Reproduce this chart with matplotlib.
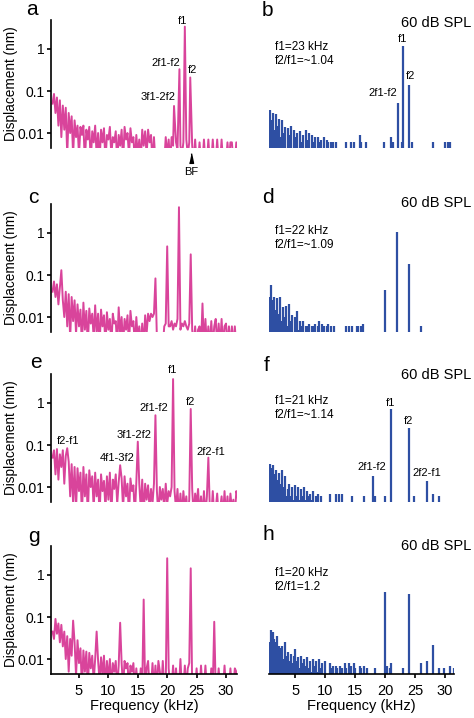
"""DPOAE-style displacement spectra, 4 rows x (pink left / blue right) -> out.png"""
import numpy as np
import matplotlib; matplotlib.use('Agg'); import matplotlib.pyplot as plt
from matplotlib.ticker import NullLocator
plt.rcParams['font.family'] = ['Liberation Sans', 'DejaVu Sans']
PINK = '#d9449b'; BLUE = '#2e4fa3'

# FFT bin grid (kHz), 0.25 kHz spacing
FREQ = 0.5 + 0.25 * np.arange(128)

# noise floors in pm, one line = 2 kHz (8 bins); values < 4.7 pm fall below the axis
NOISE_A = [50, 85, 30, 70, 15, 60, 8, 45,   12, 40, 3, 30, 10, 25, 3, 20,   8, 15, 3, 14, 9, 15, 2, 12,
           7, 14, 2, 11, 6, 15, 3, 10,      2, 12, 6, 13, 2, 9, 7, 14,      3, 8, 6, 11, 2, 9, 5, 12,
           2, 14, 7, 10, 3, 13, 6, 8,       2, 9, 3, 7, 2, 12, 5, 11,       3, 12, 6, 9, 2, 8, 2, 2,
           2, 2, 2, 2, 2, 8, 3, 7,          2, 8, 5, 3, 6, 4, 7, 5,         3, 6, 4, 7, 3, 6, 2, 5,
           2, 7, 2, 2, 6, 2, 2, 7,          2, 2, 7, 2, 2, 7, 2, 2,         7, 2, 2, 7, 2, 2, 2, 6,
           2, 6, 6, 2, 2, 6, 2, 2]
NOISE_B = [2, 36, 20, 30, 12, 28, 15, 22,   8, 20, 10, 14, 4, 13, 9, 15,    3, 12, 8, 10, 3, 11, 6, 9,
           2, 12, 7, 10, 2, 9, 6, 8,        2, 8, 6, 7, 2, 8, 2, 7,         6, 2, 6, 6, 2, 6, 2, 2,
           2, 2, 2, 2, 6, 2, 2, 6,          2, 6, 2, 2, 2, 9, 6, 2,         2, 6, 2, 2, 2, 2, 2, 2,
           2, 2, 2, 2, 2, 6, 2, 2,          2, 2, 8, 6, 2, 2, 2, 2,         2, 6, 2, 2, 2, 2, 2, 2,
           6, 2, 2, 2, 2, 2, 2, 2,          2, 2, 2, 2, 2, 2, 6, 2,         2, 2, 2, 2, 2, 2, 6, 2,
           6, 6, 2, 2, 2, 2, 2, 2]
NOISE_C = [40, 70, 30, 60, 20, 50, 130, 25, 10, 40, 6, 35, 3, 30, 8, 25,   4, 20, 6, 15, 2, 22, 5, 14,
           2, 16, 7, 12, 3, 19, 4, 12,      2, 15, 6, 11, 2, 13, 5, 9,      2, 12, 7, 8, 2, 17, 4, 10,
           2, 9, 5, 11, 2, 14, 6, 8,        2, 10, 3, 6, 2, 7, 2, 11,       4, 12, 8, 12, 10, 12, 11, 3,
           2, 2, 2, 2, 6, 7, 5, 6,          6, 8, 5, 7, 6, 9, 6, 5,         7, 6, 8, 6, 5, 7, 6, 5,
           2, 6, 2, 5, 6, 2, 6, 2,          9, 2, 6, 2, 8, 2, 6, 9,         2, 7, 2, 9, 2, 6, 7, 2,
           6, 2, 6, 2, 6, 2, 2, 2]
NOISE_D = [2, 30, 59, 25, 30, 15, 28, 12,   30, 8, 17, 10, 18, 6, 20, 8,    11, 4, 10, 14, 5, 8, 6, 8,
           2, 6, 6, 7, 2, 6, 6, 7,          2, 6, 8, 2, 7, 6, 2, 6,         7, 2, 6, 2, 6, 2, 2, 2,
           2, 2, 2, 2, 6, 2, 6, 2,          6, 2, 2, 6, 6, 2, 6, 7,         2, 2, 2, 2, 2, 2, 2, 2,
           2, 2, 2, 2, 2, 2, 2, 2,          2, 2, 2, 2, 2, 2, 2, 2,         2, 2, 2, 2, 2, 2, 2, 2,
           2, 2, 2, 2, 2, 2, 6, 2,          2, 2, 2, 2, 2, 2, 2, 2,         2, 2, 2, 2, 2, 2, 2, 2,
           2, 2, 2, 2, 2, 2, 2, 2]
NOISE_E = [50, 75, 20, 80, 15, 60, 30, 75,  12, 55, 10, 40, 6, 35, 4, 30,   3, 28, 8, 22, 2, 30, 6, 20,
           2, 25, 10, 18, 3, 22, 6, 15,     2, 20, 8, 14, 3, 18, 5, 22,     2, 15, 9, 20, 4, 13, 2, 16,
           3, 18, 6, 12, 2, 16, 8, 11,      2, 13, 4, 12, 3, 15, 2, 12,     5, 11, 3, 9, 4, 12, 6, 8,
           2, 10, 5, 9, 3, 12, 4, 8,        6, 10, 5, 8, 3, 9, 2, 7,        2, 8, 3, 6, 2, 5, 2, 9,
           2, 7, 4, 9, 2, 6, 2, 8,          2, 6, 2, 3, 2, 8, 2, 3,         7, 2, 3, 6, 2, 8, 2, 6,
           2, 7, 3, 5, 2, 8, 6, 2]
NOISE_F = [2, 35, 28, 33, 20, 25, 15, 22,   12, 26, 10, 18, 6, 9, 12, 6,    10, 5, 11, 6, 10, 5, 9, 6,
           10, 5, 8, 6, 7, 5, 8, 2,         6, 7, 2, 6, 2, 2, 2, 2,         2, 7, 2, 2, 2, 7, 2, 7,
           2, 7, 2, 2, 2, 2, 2, 2,          6, 2, 2, 2, 2, 2, 2, 2,         6, 2, 2, 2, 2, 2, 2, 6,
           2, 2, 2, 2, 2, 2, 6, 2,          2, 2, 6, 2, 2, 2, 2, 2,         2, 2, 2, 2, 2, 2, 6, 2,
           2, 6, 2, 2, 2, 2, 2, 2,          2, 2, 2, 2, 2, 2, 7, 2,         2, 2, 6, 2, 2, 2, 2, 2,
           2, 2, 2, 2, 2, 2, 2, 2]
NOISE_G = [45, 30, 90, 40, 70, 25, 65, 20,  45, 10, 35, 5, 30, 12, 3, 25,   4, 28, 8, 18, 2, 16, 5, 15,
           2, 14, 6, 12, 3, 10, 2, 9,       3, 11, 4, 12, 2, 9, 3, 10,      2, 8, 5, 9, 2, 7, 3, 8,
           2, 9, 6, 8, 2, 7, 5, 8,          2, 6, 2, 2, 6, 2, 8, 2,         6, 9, 2, 2, 8, 2, 7, 2,
           9, 5, 2, 9, 2, 2, 8, 6,          2, 2, 7, 2, 6, 2, 2, 10,        2, 2, 7, 2, 6, 8, 7, 2,
           2, 2, 6, 2, 2, 7, 2, 2,          7, 2, 2, 2, 6, 2, 2, 2,         2, 6, 2, 2, 2, 7, 2, 2,
           2, 6, 2, 2, 6, 5, 2, 2]
NOISE_H = [2, 26, 50, 45, 30, 25, 35, 20,   18, 20, 10, 25, 12, 15, 9, 13,  8, 12, 17, 9, 11, 6, 12, 8,
           10, 7, 11, 6, 9, 5, 10, 7,       9, 5, 10, 6, 8, 2, 9, 2,        2, 8, 6, 7, 2, 7, 6, 2,
           7, 6, 2, 8, 6, 2, 8, 7,          2, 8, 6, 2, 2, 7, 6, 2,         7, 2, 6, 2, 2, 2, 2, 6,
           2, 2, 2, 2, 2, 2, 6, 7,          2, 6, 8, 2, 2, 2, 2, 2,         2, 2, 6, 2, 2, 2, 2, 2,
           2, 2, 2, 2, 2, 2, 8, 2,          2, 2, 9, 2, 2, 2, 2, 2,         2, 2, 6, 2, 2, 6, 2, 2,
           2, 7, 2, 2, 6, 2, 2, 2]

# tone / distortion-product peaks: frequency (kHz) and displacement (pm)
PF_A = [21.16, 22.08, 23.0, 23.92];  PA_A = [44, 330, 3400, 210]
PF_B = [22.08, 23.0, 23.92];         PA_B = [52, 1200, 140]
PF_C = [18, 20, 22, 24, 26];         PA_C = [83, 480, 4100, 310, 21]
PF_D = [20, 22, 24];                 PA_D = [45, 1040, 180]
PF_E = [3, 12, 15, 18, 21, 24, 27];  PA_E = [84, 33, 120, 510, 3700, 720, 50]
PF_F = [18, 21, 24, 27];             PA_F = [18, 710, 250, 14]
PF_G = [4, 8, 12, 16, 20, 24, 28];   PA_G = [82, 45, 73, 260, 2500, 1440, 77]
PF_H = [20, 24, 28];                 PA_H = [400, 350, 21]

LAB_A = [('f1', 22.6, 4.7, 'center'), ('2f1-f2', 22.2, 0.47, 'right'), ('f2', 24.3, 0.32, 'center'), ('3f1-2f2', 21.4, 0.071, 'right')]
LAB_B = [('f1', 22.85, 1.7, 'center'), ('f2', 24.25, 0.23, 'center'), ('2f1-f2', 22.08, 0.091, 'right')]
LAB_E = [('f1', 20.9, 6.1, 'center'), ('2f1-f2', 17.75, 0.75, 'center'), ('f2', 24.05, 1.07, 'center'), ('3f1-2f2', 14.4, 0.173, 'center'),
         ('4f1-3f2', 11.5, 0.048, 'center'), ('f2-f1', 3.2, 0.127, 'center'), ('2f2-f1', 27.45, 0.069, 'center')]
LAB_F = [('f1', 20.9, 1.0, 'center'), ('f2', 23.85, 0.38, 'center'), ('2f1-f2', 17.85, 0.030, 'center'), ('2f2-f1', 27.0, 0.022, 'center')]
COND = ['f1=23 kHz\nf2/f1=~1.04', 'f1=22 kHz\nf2/f1=~1.09', 'f1=21 kHz\nf2/f1=~1.14', 'f1=20 kHz\nf2/f1=1.2']

def series(noise, pf, pa):
    pf = np.array(pf, float); keep = np.min(np.abs(FREQ[:, None] - pf[None, :]), axis=1) > 0.12
    x = np.concatenate([FREQ[keep], pf]); y = np.concatenate([np.array(noise, float)[keep], pa]) / 1000.
    o = np.argsort(x); return x[o], y[o]

W, H = 474, 718; FLOOR = 0.0045
TOPS = [19.6, 203.6, 373.6, 545.6]; AH = 128
LEFT = [('a', 26, 15), ('c', 28, 203), ('e', 30, 368), ('g', 28, 542)]
RIGHT = [('b', 262, 16.5), ('d', 262, 203), ('f', 264, 371), ('h', 262, 540)]
SPL_BL = [27, 207, 379, 550]
rows = [(NOISE_A, PF_A, PA_A, LAB_A, NOISE_B, PF_B, PA_B, LAB_B),
        (NOISE_C, PF_C, PA_C, [], NOISE_D, PF_D, PA_D, []),
        (NOISE_E, PF_E, PA_E, LAB_E, NOISE_F, PF_F, PA_F, LAB_F),
        (NOISE_G, PF_G, PA_G, [], NOISE_H, PF_H, PA_H, [])]

fig = plt.figure(figsize=(W / 100, H / 100), dpi=100)
for i, (nL, pfL, paL, labL, nR, pfR, paR, labR) in enumerate(rows):
    top = TOPS[i]; b = 1 - (top + AH) / H; h = AH / H; last = i == 3
    axL = fig.add_axes([51 / W, b, 186 / W, h]); axR = fig.add_axes([269.3 / W, b, 185 / W, h])
    x, y = series(nL, pfL, paL); axL.plot(x, y, color=PINK, lw=1.4)
    x, y = series(nR, pfR, paR); keep = y > FLOOR
    axR.vlines(x[keep], FLOOR, y[keep], color=BLUE, lw=1.6)
    for ax, lab, xl in [(axL, labL, (0.24, 31.87)), (axR, labR, (0.68, 31.55))]:
        ax.set_yscale('log'); ax.set_ylim(FLOOR, 5); ax.set_xlim(*xl)
        ax.yaxis.set_minor_locator(NullLocator())
        for s in ['top', 'right']: ax.spines[s].set_visible(False)
        for s in ['left', 'bottom']: ax.spines[s].set_linewidth(1.2)
        ax.spines['bottom'].set_visible(last)
        for t, tx, ty, ha in lab: ax.text(tx, ty, t, fontsize=8, ha=ha, va='center')
        if last:
            ax.set_xticks([5, 10, 15, 20, 25, 30])
            ax.tick_params(axis='x', length=3, width=1.2, labelsize=10.5, pad=4.5)
            ax.set_xlabel('Frequency (kHz)', fontsize=10.5); ax.xaxis.set_label_coords(0.5, -0.2)
        else:
            ax.set_xticks([])
    axL.set_yticks([0.01, 0.1, 1]); axL.set_yticklabels(['0.01', '0.1', '1'])
    axL.tick_params(axis='y', length=3, width=1.2, labelsize=10, pad=1.5)
    axL.set_ylabel('Displacement (nm)', fontsize=9.8); axL.yaxis.set_label_coords(-0.18, 0.5)
    axR.spines['left'].set_visible(False); axR.set_yticks([])
    for let, lx, ly in [LEFT[i], RIGHT[i]]: fig.text(lx / W, 1 - ly / H, let, fontsize=15, va='baseline')
    fig.text(471 / W, 1 - SPL_BL[i] / H, '60 dB SPL', fontsize=10.5, ha='right', va='baseline')
    fig.text(275 / W, 1 - (top + 21.2) / H, COND[i], fontsize=8.5, va='top', linespacing=1.25)
    if i == 0:
        axL.plot([24.1], [-0.078], transform=axL.get_xaxis_transform(), clip_on=False, color='black', ms=7,
                 marker=[(-1, -2.4), (1, -2.4), (0, 2.4)], lw=0)
        axL.text(24.1, -0.19, 'BF', transform=axL.get_xaxis_transform(), fontsize=8, ha='center', va='center')

fig.savefig('out.png', dpi=100)
